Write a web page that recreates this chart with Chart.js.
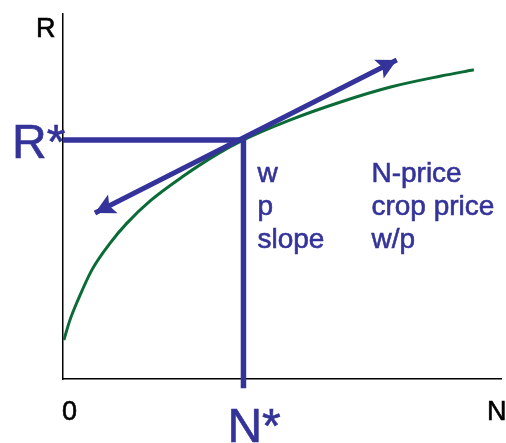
<!DOCTYPE html>
<html>
<head>
<meta charset="utf-8">
<script src="https://cdn.jsdelivr.net/npm/chart.js@4.4.0/dist/chart.umd.min.js"></script>
<style>
  body { margin: 0; background: #fff; }
  #wrap { width: 506px; height: 443px; position: relative; }
</style>
</head>
<body>
<div id="wrap"><canvas id="chart"></canvas></div>
<script>
// response curve (N on x, R on y, 0..100 units)
const curveN = [0.2, 1.6, 3.4, 6.6, 10.8, 14.6, 19.9, 27.5, 35.2, 41.2, 51.9, 63.4, 74.8, 86.3, 93.8];
const curveR = [10.7, 16.2, 21.6, 29.9, 37.3, 42.7, 48.8, 55.6, 61.6, 65.5, 71.0, 75.9, 80.0, 83.0, 84.7];

// optimum point
const nStar = 41.2;
const rStar = 65.5;

// tangent (price ratio) line, both ends are arrow tips
const tangentN = [7.3, 76.2];
const tangentR = [45.5, 87.4];

// vertical drop line runs a little below the N axis
const dropBottom = -2.5;

// text labels
const priceLabels = ['w', 'p', 'slope'];
const priceMeanings = ['N-price', 'crop price', 'w/p'];

const blue = '#333399';
const green = '#0b6b37';

function toPoints(xs, ys) {
  return xs.map((x, i) => ({ x: x, y: ys[i] }));
}

// Draws arrow heads on the tangent line and the text labels
const annotate = {
  id: 'annotate',
  afterDatasetsDraw(chart) {
    const ctx = chart.ctx;
    const xs = chart.scales.x;
    const ys = chart.scales.y;

    // arrow heads
    const pts = chart.getDatasetMeta(1).data;
    const a = pts[0], b = pts[1];
    function head(tip, from) {
      const ang = Math.atan2(tip.y - from.y, tip.x - from.x);
      const len = 20, half = 10.5;
      ctx.save();
      ctx.fillStyle = blue;
      ctx.translate(tip.x, tip.y);
      ctx.rotate(ang);
      ctx.beginPath();
      ctx.moveTo(0, 0);
      ctx.lineTo(-len, -half);
      ctx.lineTo(-len * 0.8, 0);
      ctx.lineTo(-len, half);
      ctx.closePath();
      ctx.fill();
      ctx.restore();
    }
    head(a, b);
    head(b, a);

    function label(t, x, y) {
      ctx.fillText(t, x, y);
      ctx.strokeText(t, x, y);
    }

    ctx.save();
    ctx.textBaseline = 'alphabetic';
    ctx.textAlign = 'left';
    ctx.lineWidth = 0.6;

    // axis letters
    ctx.fillStyle = '#000';
    ctx.strokeStyle = '#000';
    ctx.font = '27px "Liberation Sans", Arial, sans-serif';
    label('R', xs.left - 27, ys.top + 23);
    label('0', xs.left - 1, ys.bottom + 41);
    label('N', xs.right - 14, ys.bottom + 41);

    // starred values
    ctx.fillStyle = blue;
    ctx.strokeStyle = blue;
    ctx.font = '48px "Liberation Sans", Arial, sans-serif';
    label('R*', 12, ys.getPixelForValue(rStar) + 18);
    label('N*', xs.getPixelForValue(nStar) - 16, 442);

    // price table
    ctx.font = '28px "Liberation Sans", Arial, sans-serif';
    const col1 = xs.getPixelForValue(nStar) + 14;
    const col2 = col1 + 114;
    priceLabels.forEach((t, i) => {
      const yy = 182 + i * 33;
      label(t, col1, yy);
      label(priceMeanings[i], col2, yy);
    });
    ctx.restore();
  }
};

const ctx = document.getElementById('chart').getContext('2d');
new Chart(ctx, {
  type: 'scatter',
  data: {
    datasets: [
      {
        label: 'response',
        data: toPoints(curveN, curveR),
        showLine: true,
        borderColor: green,
        borderWidth: 3,
        pointRadius: 0,
        cubicInterpolationMode: 'monotone',
        order: 3
      },
      {
        label: 'tangent',
        data: toPoints(tangentN, tangentR),
        showLine: true,
        borderColor: blue,
        borderWidth: 5,
        pointRadius: 0,
        order: 1
      },
      {
        label: 'R*',
        data: [{ x: 0, y: rStar }, { x: nStar, y: rStar }],
        showLine: true,
        borderColor: blue,
        borderWidth: 5.5,
        pointRadius: 0,
        order: 2
      },
      {
        label: 'N*',
        data: [{ x: nStar, y: rStar }, { x: nStar, y: dropBottom }],
        showLine: true,
        borderColor: blue,
        borderWidth: 5.5,
        pointRadius: 0,
        clip: false,
        order: 2
      }
    ]
  },
  options: {
    responsive: true,
    maintainAspectRatio: false,
    animation: false,
    layout: { padding: { left: 63, right: 5, top: 14, bottom: 64 } },
    plugins: {
      legend: { display: false },
      tooltip: { enabled: false }
    },
    scales: {
      x: {
        type: 'linear',
        min: 0,
        max: 100,
        grid: { display: false, drawTicks: false },
        ticks: { display: false },
        border: { display: true, color: '#000', width: 1.5 }
      },
      y: {
        type: 'linear',
        min: 0,
        max: 100,
        grid: { display: false, drawTicks: false },
        ticks: { display: false },
        border: { display: true, color: '#000', width: 1.5 }
      }
    }
  },
  plugins: [annotate]
});
</script>
</body>
</html>
